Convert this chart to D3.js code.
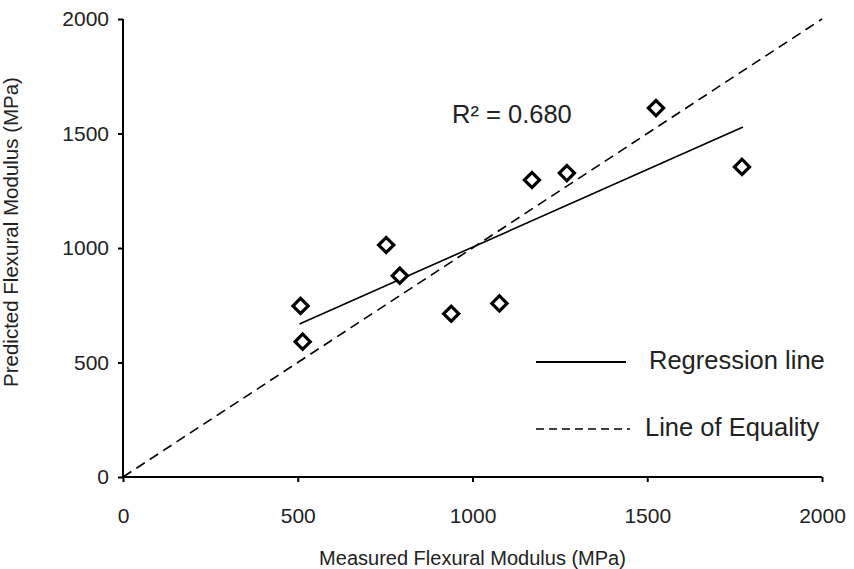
<!DOCTYPE html>
<html>
<head>
<meta charset="utf-8">
<script src="https://cdn.jsdelivr.net/npm/d3@7"></script>
<style>
  body { margin: 0; background: #fff; }
  text { font-family: "Liberation Sans", Arial, sans-serif; fill: #222; }
</style>
</head>
<body>
<div id="chart"></div>
<script>
// measured vs predicted flexural modulus (MPa)
const measured = [508, 514, 753, 792, 939, 1077, 1170, 1270, 1525, 1771];
const predicted = [747, 591, 1013, 879, 713, 758, 1297, 1327, 1611, 1354];

// trendline ends
const regressionX = [505, 1774];
const regressionY = [668, 1528];
const equalityX = [0, 2000];

const ticks = [0, 500, 1000, 1500, 2000];
const xTitle = "Measured Flexural Modulus (MPa)";
const yTitle = "Predicted Flexural Modulus (MPa)";
const r2Label = "R² = 0.680";
const legendLabels = ["Regression line", "Line of Equality"];

const width = 854;
const height = 569;

const svg = d3.select("#chart").append("svg")
  .attr("width", width)
  .attr("height", height);

const x = d3.scaleLinear().domain([0, 2000]).range([123, 822]);
const y = d3.scaleLinear().domain([0, 2000]).range([477, 19]);

// axes
const xAxis = svg.append("g")
  .attr("transform", `translate(0,${y(0)})`)
  .call(d3.axisBottom(x).tickValues(ticks).tickFormat(d3.format("d")).tickSize(5).tickPadding(26));
const yAxis = svg.append("g")
  .attr("transform", `translate(${x(0)},0)`)
  .call(d3.axisLeft(y).tickValues(ticks).tickFormat(d3.format("d")).tickSize(5).tickPadding(9));

[xAxis, yAxis].forEach(a => {
  a.select(".domain").attr("stroke", "#000").attr("stroke-width", 2);
  a.selectAll(".tick line").attr("stroke", "#000").attr("stroke-width", 2);
  a.selectAll(".tick text")
    .attr("font-size", 21)
    .attr("font-family", "Liberation Sans, Arial, sans-serif")
    .attr("fill", "#222");
});
xAxis.select(".domain").attr("d", `M${x(0)},0H${x(2000)}`);
yAxis.select(".domain").attr("d", `M0,${y(0)}V${y(2000)}`);

const line = d3.line().x(d => x(d[0])).y(d => y(d[1]));

// line of equality
svg.append("path")
  .attr("d", line(equalityX.map(v => [v, v])))
  .attr("fill", "none")
  .attr("stroke", "#000")
  .attr("stroke-width", 1.6)
  .attr("stroke-dasharray", "10,6");

// regression line
svg.append("path")
  .attr("d", line(regressionX.map((v, i) => [v, regressionY[i]])))
  .attr("fill", "none")
  .attr("stroke", "#000")
  .attr("stroke-width", 1.6);

// points
const diamond = d3.symbol().type(d3.symbolSquare).size(115);
svg.selectAll(".pt")
  .data(measured.map((v, i) => [v, predicted[i]]))
  .enter()
  .append("path")
  .attr("class", "pt")
  .attr("d", diamond)
  .attr("transform", d => `translate(${x(d[0])},${y(d[1])}) rotate(45)`)
  .attr("fill", "#fff")
  .attr("stroke", "#000")
  .attr("stroke-width", 3.2);

// R² label
svg.append("text")
  .attr("x", 452)
  .attr("y", 123)
  .attr("font-size", 25.5)
  .text(r2Label);

// legend
const legend = svg.append("g");
legendLabels.forEach((lab, i) => {
  const ly = 362 + i * 67;
  legend.append("line")
    .attr("x1", 536).attr("x2", i === 0 ? 626 : 630)
    .attr("y1", ly).attr("y2", ly)
    .attr("stroke", "#000")
    .attr("stroke-width", i === 0 ? 2 : 1.6)
    .attr("stroke-dasharray", i === 0 ? null : "8,5");
  legend.append("text")
    .attr("x", i === 0 ? 649 : 645)
    .attr("y", ly + 7)
    .attr("font-size", 25.5)
    .text(lab);
});

// axis titles
svg.append("text")
  .attr("x", (x(0) + x(2000)) / 2)
  .attr("y", 565)
  .attr("text-anchor", "middle")
  .attr("font-size", 20)
  .text(xTitle);

svg.append("text")
  .attr("transform", `translate(18,232) rotate(-90)`)
  .attr("text-anchor", "middle")
  .attr("font-size", 20.5)
  .text(yTitle);
</script>
</body>
</html>
